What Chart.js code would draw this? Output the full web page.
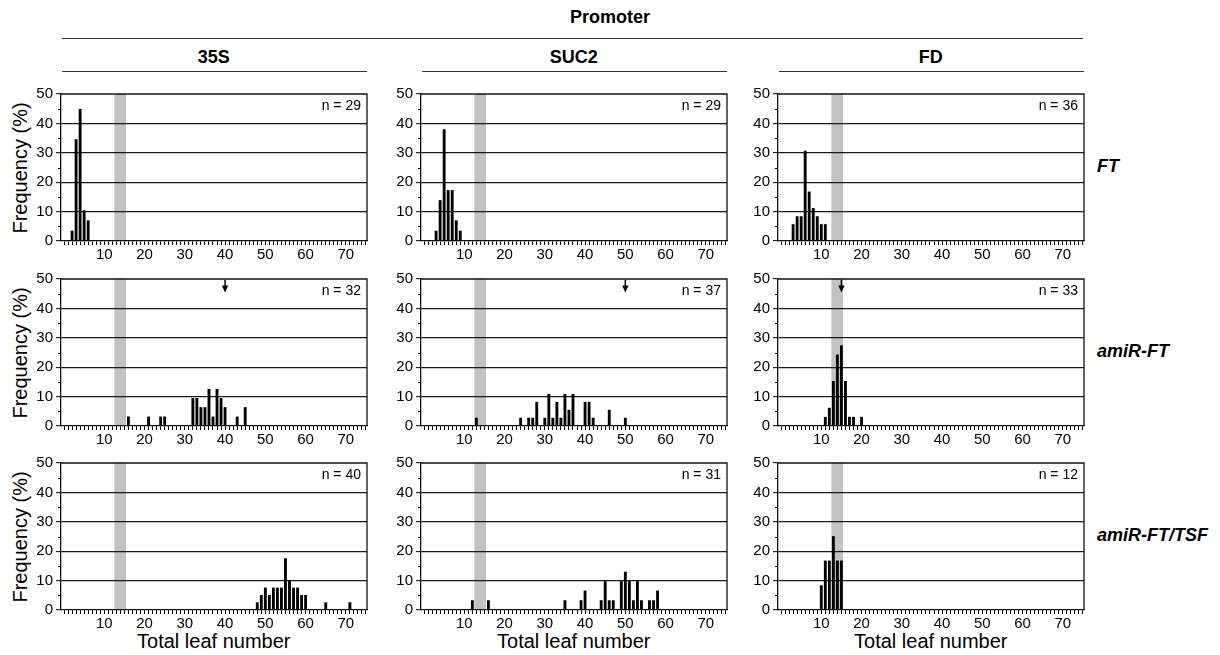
<!DOCTYPE html>
<html>
<head>
<meta charset="utf-8">
<script src="https://cdn.jsdelivr.net/npm/chart.js@4.4.1/dist/chart.umd.min.js"></script>
<style>
  html, body { margin:0; padding:0; background:#fff; }
  #wrap { position:relative; width:1220px; height:655px; overflow:hidden; font-family:"Liberation Sans", Arial, Helvetica, sans-serif; color:#000; }
  canvas { position:absolute; }
  .t { position:absolute; white-space:nowrap; line-height:1; }
  .hdr { font-weight:bold; font-size:18px; transform:translate(-50%,-50%); }
  .row { font-weight:bold; font-style:italic; font-size:18px; transform:translate(0,-50%); }
  .ytitle { font-size:20px; transform:translate(-50%,-50%) rotate(-90deg); }
  .xtitle { font-size:20px; transform:translate(-50%,-50%); }
  .line { position:absolute; background:#333; height:1.5px; }
</style>
</head>
<body>
<div id="wrap"></div>
<script>
// ---------------- data ----------------
const promoters = ['35S', 'SUC2', 'FD'];
const constructs = ['FT', 'amiR-FT', 'amiR-FT/TSF'];
const xTickLabels = [10, 20, 30, 40, 50, 60, 70];
const yTickLabels = [0, 10, 20, 30, 40, 50];
const wtBand = [12.5, 15.4];           // grey band (wild-type range, leaf number)

// FT row
const ft35S_leaf  = [2, 3, 4, 5, 6];
const ft35S_freq  = [3.4, 34.5, 44.8, 10.3, 6.9];
const ftSUC2_leaf = [3, 4, 5, 6, 7, 8, 9];
const ftSUC2_freq = [3.4, 13.8, 37.9, 17.2, 17.2, 6.9, 3.4];
const ftFD_leaf   = [3, 4, 5, 6, 7, 8, 9, 10, 11];
const ftFD_freq   = [5.6, 8.3, 8.3, 30.6, 16.7, 11.1, 8.3, 5.6, 5.6];

// amiR-FT row
const amiR35S_leaf  = [16, 21, 24, 25, 32, 33, 34, 35, 36, 37, 38, 39, 40, 43, 45];
const amiR35S_freq  = [3.1, 3.1, 3.1, 3.1, 9.4, 9.4, 6.3, 6.3, 12.5, 3.1, 12.5, 9.4, 6.3, 3.1, 6.3];
const amiRSUC2_leaf = [13, 24, 26, 27, 28, 30, 31, 32, 33, 34, 35, 36, 37, 40, 41, 42, 46, 50];
const amiRSUC2_freq = [2.7, 2.7, 2.7, 2.7, 8.1, 2.7, 10.8, 2.7, 8.1, 2.7, 10.8, 5.4, 10.8, 8.1, 8.1, 2.7, 5.4, 2.7];
const amiRFD_leaf   = [11, 12, 13, 14, 15, 16, 17, 18, 20];
const amiRFD_freq   = [3.0, 6.1, 15.2, 24.2, 27.3, 15.2, 3.0, 3.0, 3.0];

// amiR-FT/TSF row
const tsf35S_leaf  = [48, 49, 50, 51, 52, 53, 54, 55, 56, 57, 58, 59, 60, 65, 71];
const tsf35S_freq  = [2.5, 5.0, 7.5, 5.0, 7.5, 7.5, 7.5, 17.5, 10.0, 7.5, 7.5, 5.0, 5.0, 2.5, 2.5];
const tsfSUC2_leaf = [12, 16, 35, 39, 40, 44, 45, 46, 47, 49, 50, 51, 52, 53, 54, 56, 57, 58];
const tsfSUC2_freq = [3.2, 3.2, 3.2, 3.2, 6.5, 3.2, 9.7, 3.2, 3.2, 9.7, 12.9, 9.7, 3.2, 9.7, 3.2, 3.2, 3.2, 6.5];
const tsfFD_leaf   = [10, 11, 12, 13, 14, 15];
const tsfFD_freq   = [8.3, 16.7, 16.7, 25.0, 16.7, 16.7];

const nFT   = [29, 29, 36];
const nAmiR = [32, 37, 33];
const nTSF  = [40, 31, 12];
const arrowAmiR = [40, 50, 15];        // arrows in amiR-FT row

// ---------------- assembly ----------------
const leafRows = [[ft35S_leaf, ftSUC2_leaf, ftFD_leaf], [amiR35S_leaf, amiRSUC2_leaf, amiRFD_leaf], [tsf35S_leaf, tsfSUC2_leaf, tsfFD_leaf]];
const freqRows = [[ft35S_freq, ftSUC2_freq, ftFD_freq], [amiR35S_freq, amiRSUC2_freq, amiRFD_freq], [tsf35S_freq, tsfSUC2_freq, tsfFD_freq]];
const nRows = [nFT, nAmiR, nTSF];
const arrowRows = [[null, null, null], arrowAmiR, [null, null, null]];

// layout (plot-area boxes)
const colLeft = [61, 421, 778];
const plotW = 305.5;
const rowTop = [94, 279, 463];
const plotH = 147;
const PADL = 50, PADT = 12, PADR = 8, PADB = 28;
const FONT = '"Liberation Sans", Arial, Helvetica, sans-serif';

const wrap = document.getElementById('wrap');

function addText(cls, txt, x, y) {
  const d = document.createElement('div');
  d.className = 't ' + cls;
  d.textContent = txt;
  d.style.left = x + 'px';
  d.style.top = y + 'px';
  wrap.appendChild(d);
}
function addLine(x1, x2, y) {
  const d = document.createElement('div');
  d.className = 'line';
  d.style.left = x1 + 'px';
  d.style.width = (x2 - x1) + 'px';
  d.style.top = (y - 0.75) + 'px';
  wrap.appendChild(d);
}

// headers
addText('hdr', 'Promoter', 610, 17);
addLine(62, 1083, 38.5);
promoters.forEach((p, c) => {
  addText('hdr', p, colLeft[c] + plotW / 2, 57);
  addLine(colLeft[c] + 1, colLeft[c] + plotW, 71.5);
  addText('xtitle', 'Total leaf number', colLeft[c] + plotW / 2, 641);
});
constructs.forEach((k, r) => {
  addText('row', k, 1097, rowTop[r] + plotH / 2 - 2);
  addText('ytitle', 'Frequency (%)', 20, rowTop[r] + plotH / 2);
});

const decor = {
  id: 'decor',
  beforeDraw(chart, args, opts) {
    const ctx = chart.ctx, a = chart.chartArea, xs = chart.scales.x;
    const x1 = xs.getPixelForValue(wtBand[0]), x2 = xs.getPixelForValue(wtBand[1]);
    ctx.save();
    ctx.fillStyle = '#c2c2c2';
    ctx.fillRect(x1, a.top, x2 - x1, a.bottom - a.top);
    ctx.restore();
  },
  afterDraw(chart, args, opts) {
    const ctx = chart.ctx, a = chart.chartArea, xs = chart.scales.x, ys = chart.scales.y;
    ctx.save();
    // frame top & right
    ctx.strokeStyle = '#111';
    ctx.lineWidth = 1.3;
    ctx.beginPath();
    ctx.moveTo(a.left, a.top); ctx.lineTo(a.right, a.top); ctx.lineTo(a.right, a.bottom);
    ctx.stroke();
    // minor y ticks
    ctx.lineWidth = 1;
    ctx.strokeStyle = '#000';
    for (let i = 0; i < yTickLabels.length - 1; i++) {
      const v = (yTickLabels[i] + yTickLabels[i + 1]) / 2;
      const py = Math.round(ys.getPixelForValue(v)) + 0.5;
      ctx.beginPath(); ctx.moveTo(a.left - 3, py); ctx.lineTo(a.left, py); ctx.stroke();
    }
    // n label
    ctx.fillStyle = '#000';
    ctx.font = '14px ' + FONT;
    ctx.textAlign = 'right';
    ctx.textBaseline = 'middle';
    ctx.fillText('n = ' + opts.n, a.right - 6, a.top + 12);
    // arrow
    if (opts.arrow != null) {
      const px = xs.getPixelForValue(opts.arrow);
      ctx.lineWidth = 1.5;
      ctx.beginPath(); ctx.moveTo(px, a.top + 1); ctx.lineTo(px, a.top + 8); ctx.stroke();
      ctx.beginPath();
      ctx.moveTo(px - 3.2, a.top + 6.5); ctx.lineTo(px + 3.2, a.top + 6.5); ctx.lineTo(px, a.top + 13.5);
      ctx.closePath(); ctx.fill();
    }
    ctx.restore();
  }
};

const xMinor = [];
for (let v = 0; v <= 75; v++) xMinor.push(v);

for (let r = 0; r < 3; r++) {
  for (let c = 0; c < 3; c++) {
    const cv = document.createElement('canvas');
    const W = Math.round(plotW + PADL + PADR), H = plotH + PADT + PADB;
    cv.width = W; cv.height = H;
    cv.style.width = W + 'px'; cv.style.height = H + 'px';
    cv.style.left = (colLeft[c] - PADL) + 'px';
    cv.style.top = (rowTop[r] - PADT) + 'px';
    wrap.appendChild(cv);
    const leaf = leafRows[r][c], freq = freqRows[r][c];
    new Chart(cv, {
      type: 'bar',
      data: {
        datasets: [{
          data: leaf.map((x, i) => ({ x: x, y: freq[i] })),
          backgroundColor: '#000',
          borderWidth: 0,
          barThickness: 2.2
        }]
      },
      plugins: [decor],
      options: {
        responsive: false,
        animation: false,
        devicePixelRatio: 1,
        layout: { padding: { left: PADL - 45, top: PADT, right: PADR, bottom: 0 } },
        plugins: {
          legend: { display: false },
          tooltip: { enabled: false },
          decor: { n: nRows[r][c], arrow: arrowRows[r][c] }
        },
        scales: {
          x: {
            type: 'linear',
            min: -0.75, max: 75.25,
            offset: false,
            afterBuildTicks: (s) => { s.ticks = xMinor.map(v => ({ value: v })); },
            afterFit: (s) => { s.height = PADB; },
            ticks: {
              autoSkip: false, maxRotation: 0, minRotation: 0, padding: 1,
              color: '#000', font: { family: FONT, size: 15 },
              callback: (v) => xTickLabels.includes(v) ? String(v) : ''
            },
            grid: { offset: false, drawOnChartArea: false, drawTicks: true, tickLength: 4, tickColor: '#000', tickWidth: 1 },
            border: { display: true, color: '#111', width: 1.3 }
          },
          y: {
            min: 0, max: 50,
            afterBuildTicks: (s) => { s.ticks = yTickLabels.map(v => ({ value: v })); },
            afterFit: (s) => { s.width = 45; },
            ticks: { padding: 3, color: '#000', font: { family: FONT, size: 15 }, callback: (v) => String(v) },
            grid: {
              drawTicks: true, tickLength: 5, tickColor: '#000', tickWidth: 1,
              lineWidth: 1.3,
              color: (ctx) => (ctx.tick && ctx.tick.value > 0 && ctx.tick.value < 50) ? '#1a1a1a' : 'rgba(0,0,0,0)'
            },
            border: { display: true, color: '#111', width: 1.3 }
          }
        }
      }
    });
  }
}
</script>
</body>
</html>
